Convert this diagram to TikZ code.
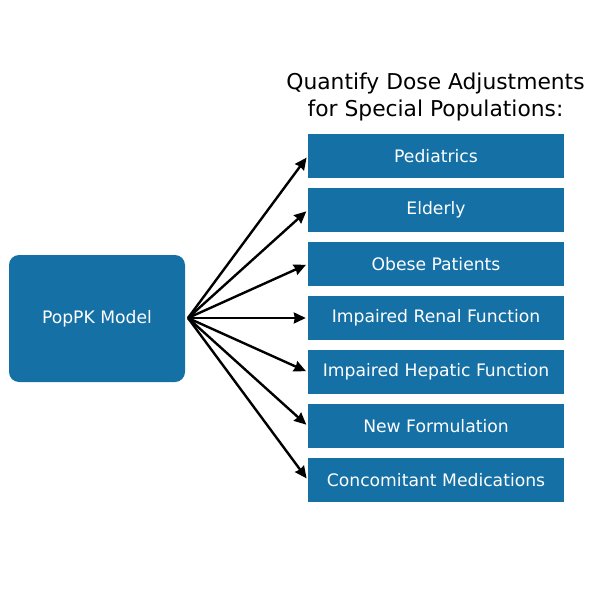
\documentclass[tikz,border=0pt]{standalone}
\usepackage{fontspec}
\setmainfont{DejaVu Sans}
\usetikzlibrary{arrows.meta}
\definecolor{boxblue}{RGB}{20,112,165}
\tikzset{
  popbox/.style={fill=boxblue, draw=none, text=white, minimum width=256pt, minimum height=44pt, inner sep=0pt, font=\fontsize{17.2}{19}\selectfont},
  bigbox/.style={fill=boxblue, draw=none, rounded corners=10pt, text=white, minimum width=176pt, minimum height=127pt, inner sep=0pt, font=\fontsize{17.2}{19}\selectfont},
  conn/.style={line width=2.4pt, -{Stealth[length=12pt,width=11pt,inset=1pt]}, shorten >=2pt}
}
\begin{document}
\begin{tikzpicture}[x=1pt,y=-1pt]
\useasboundingbox (0,0) rectangle (594,594);
\node[bigbox] (model) at (97,318.5) {PopPK Model};
\coordinate (src) at (188,318);
\node[font=\fontsize{21.8}{27}\selectfont, align=center] (title) at (435.5,96.5) {Quantify Dose Adjustments\\for Special Populations:};
\node[popbox] (p1) at (436,156) {Pediatrics};
\node[popbox] (p2) at (436,210) {Elderly};
\node[popbox] (p3) at (436,264) {Obese Patients};
\node[popbox] (p4) at (436,318) {Impaired Renal Function};
\node[popbox] (p5) at (436,372) {Impaired Hepatic Function};
\node[popbox] (p6) at (436,426) {New Formulation};
\node[popbox] (p7) at (436,480) {Concomitant Medications};
\foreach \i in {1,...,7}{
  \draw[conn] (src) -- (p\i.west);
}
\end{tikzpicture}
\end{document}
